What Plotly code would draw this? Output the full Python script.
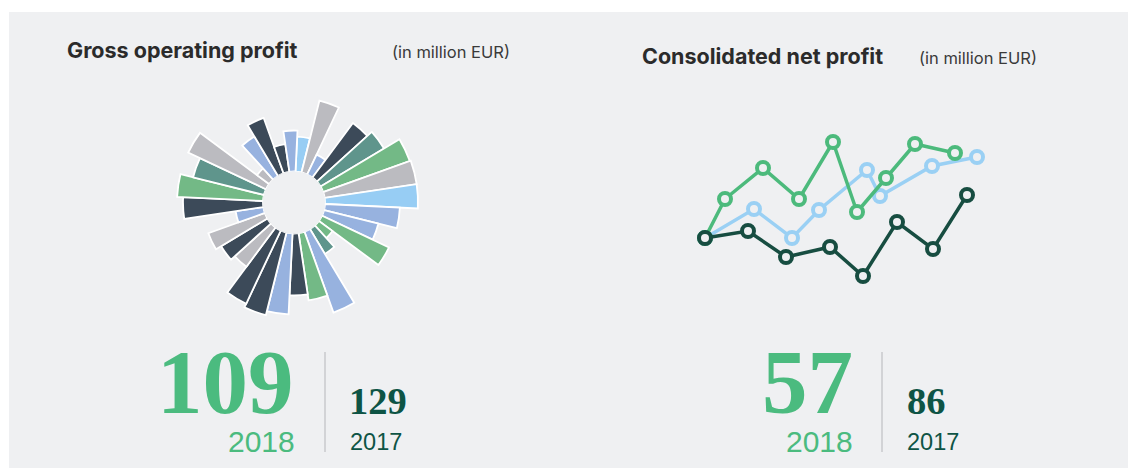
import plotly.graph_objects as go

W, H = 1128, 468

# ---------------- data ----------------
# Gross operating profit – radial bars (length beyond the inner hole, arbitrary units)
radial_values = [35, 74, 22, 68, 74, 92, 93, 93, 75, 56, 74, 17, 29, 86, 68, 62,
                 81, 85, 81, 49, 54, 60, 28, 80, 86, 73, 86, 15, 46, 59, 28, 41]
radial_colors = ["lightblue", "gray", "peri", "dark", "teal", "green", "gray", "lightblue",
                 "peri", "peri", "green", "green", "teal", "peri", "green", "dark",
                 "peri", "dark", "dark", "gray", "dark", "gray", "peri", "dark",
                 "green", "teal", "gray", "gray", "peri", "dark", "dark", "peri"]

# Consolidated net profit – three line series (x, y in arbitrary units)
dark_x = [15, 58, 96, 140, 173, 207, 243, 277]
dark_y = [62, 69, 43, 53, 24, 78, 51, 105]
blue_x = [15, 64, 102, 129, 177, 190, 242, 287]
blue_y = [62, 91, 62, 90, 130, 104, 134, 143]
green_x = [15, 35, 73, 109, 143, 167, 196, 225, 265]
green_y = [62, 101, 132, 101, 158, 88, 122, 156, 147]

titles = ["Gross operating profit", "Consolidated net profit"]
unit_label = "(in million EUR)"
values_2018 = ["109", "57"]
values_2017 = ["129", "86"]
year_labels = ["2018", "2017"]

# ---------------- styles ----------------
palette = {
    "dark": "#3c4a59",
    "gray": "#bbbbc0",
    "peri": "#97b2df",
    "lightblue": "#97cdf4",
    "green": "#73b986",
    "teal": "#5f958c",
}
BG = "#eff0f2"
GREEN = "#4bbb7f"
DKGREEN = "#0e5445"
LINE_DARK = "#174d41"
LINE_BLUE = "#9ad0f4"
LINE_GREEN = "#4cba7c"


def px(x):
    return x / W


def py(y):
    return 1 - y / H


fig = go.Figure()

# ---- radial bar chart ----
n = len(radial_values)
step = 360 / n
theta = [8.4 + i * step for i in range(n)]
fig.add_trace(go.Barpolar(
    r=radial_values,
    theta=theta,
    width=[step] * n,
    marker=dict(color=[palette[c] for c in radial_colors],
                line=dict(color="white", width=1.8)),
    hoverinfo="skip",
    showlegend=False,
))

cx, cy, R, hole = 294, 202.5, 126, 31
fig.update_layout(polar=dict(
    domain=dict(x=[px(cx - R), px(cx + R)], y=[py(cy + R), py(cy - R)]),
    bgcolor="rgba(0,0,0,0)",
    hole=hole / R,
    radialaxis=dict(visible=False, range=[0, R - hole]),
    angularaxis=dict(visible=False, direction="clockwise", rotation=90),
))

# ---- line chart ----
for xs, ys, col in [(blue_x, blue_y, LINE_BLUE), (green_x, green_y, LINE_GREEN),
                    (dark_x, dark_y, LINE_DARK)]:
    fig.add_trace(go.Scatter(
        x=xs, y=ys, mode="lines+markers",
        line=dict(color=col, width=3.5),
        marker=dict(size=12, color=BG, line=dict(color=col, width=4)),
        hoverinfo="skip", showlegend=False, cliponaxis=False,
    ))

fig.update_layout(
    xaxis=dict(domain=[px(690), px(1000)], range=[0, 310], visible=False, fixedrange=True),
    yaxis=dict(domain=[py(300), py(120)], range=[0, 180], visible=False, fixedrange=True),
)

# ---- background panel ----
shapes = [dict(type="rect", xref="paper", yref="paper", x0=px(9), x1=1, y0=0, y1=py(12),
               fillcolor=BG, line=dict(width=0), layer="below")]
for lx in [325, 882]:
    shapes.append(dict(type="line", xref="paper", yref="paper", x0=px(lx), x1=px(lx),
                       y0=py(352), y1=py(452), line=dict(color="#c9cacd", width=1.5)))

ann = []
SANS = "Inter, 'Liberation Sans', sans-serif"
SERIF = "'Liberation Serif', 'DejaVu Serif', serif"
LIGHT = "'Liberation Sans', Arial, sans-serif"


def text(x, y, s, size, color, family, xanchor="left", weight="normal"):
    ann.append(dict(x=px(x), y=py(y), xref="paper", yref="paper", text=s, showarrow=False,
                    xanchor=xanchor, yanchor="middle",
                    font=dict(size=size, color=color, family=family, weight=weight)))


text(65, 50, titles[0], 21.5, "#2b2b2b", SANS, weight="bold")
text(390, 52, unit_label, 16.5, "#3a3a3a", SANS)
text(640, 56, titles[1], 21.5, "#2b2b2b", SANS, weight="bold")
text(917, 58, unit_label, 16.5, "#3a3a3a", SANS)

# big numbers
text(296, 382, values_2018[0], 91, GREEN, SERIF, xanchor="right", weight="bold")
text(297, 441, year_labels[0], 30, GREEN, LIGHT, xanchor="right")
text(347, 401, values_2017[0], 38.5, DKGREEN, SERIF, weight="bold")
text(348, 442, year_labels[1], 23.5, DKGREEN, LIGHT)

text(855, 382, values_2018[1], 91, GREEN, SERIF, xanchor="right", weight="bold")
text(855, 441, year_labels[0], 30, GREEN, LIGHT, xanchor="right")
text(905, 401, values_2017[1], 38.5, DKGREEN, SERIF, weight="bold")
text(905, 442, year_labels[1], 23.5, DKGREEN, LIGHT)

fig.update_layout(
    width=W, height=H,
    margin=dict(l=0, r=0, t=0, b=0),
    paper_bgcolor="white",
    plot_bgcolor="rgba(0,0,0,0)",
    shapes=shapes,
    annotations=ann,
    showlegend=False,
)

fig.write_html("out.html", config={"displayModeBar": False},
               post_script="document.body.style.margin='0';document.body.style.overflow='hidden';")
